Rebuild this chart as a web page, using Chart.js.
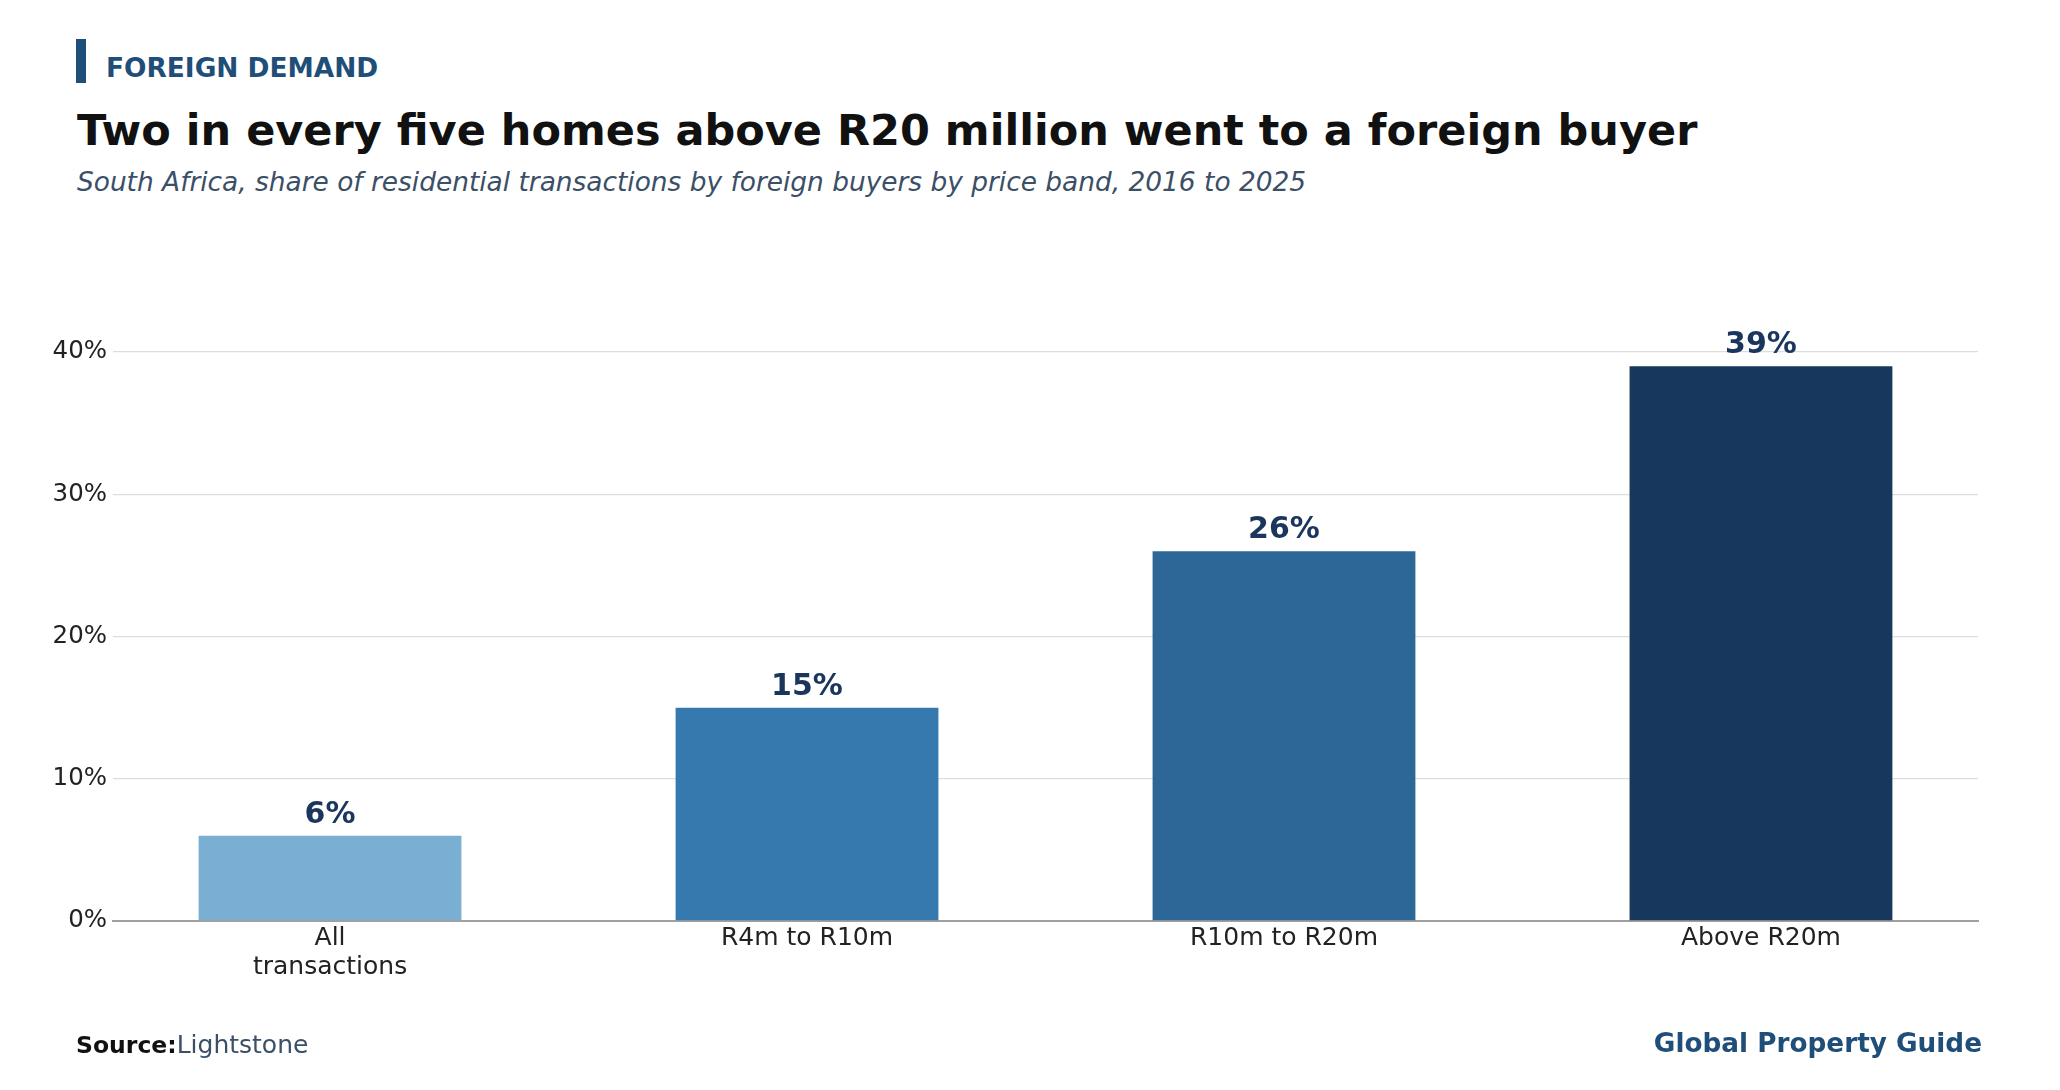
<!DOCTYPE html>
<html>
<head>
<meta charset="utf-8">
<title>Foreign demand</title>
<script src="https://cdn.jsdelivr.net/npm/chart.js@4.4.1/dist/chart.umd.min.js"></script>
<style>
  html, body { margin: 0; padding: 0; background: #fff; }
  body { width: 2060px; height: 1090px; position: relative; overflow: hidden; font-family: 'DejaVu Sans', sans-serif; }
  #chart { position: absolute; left: 0; top: 0; }
  .txt { position: absolute; white-space: nowrap; line-height: 1; }
  .accent { position: absolute; left: 76px; top: 39px; width: 10px; height: 44px; background: #1f4e79; }
  .kicker { left: 106px; top: 55px; font-size: 26.4px; font-weight: bold; color: #1f4e79; }
  .title { left: 77px; top: 109px; font-size: 43px; font-weight: bold; color: #111; }
  .subtitle { left: 77px; top: 169px; font-size: 26.4px; font-style: italic; color: #3b4f66; }
  .source { left: 76px; top: 1032px; font-size: 25px; color: #3b4f66; }
  .source b { color: #111; font-size: 23.5px; }
  .brand { right: 78px; top: 1030px; font-size: 26.3px; font-weight: bold; color: #1f4e79; }
</style>
</head>
<body>
<div class="accent"></div>
<div class="txt kicker">FOREIGN DEMAND</div>
<div class="txt title">Two in every five homes above R20 million went to a foreign buyer</div>
<div class="txt subtitle">South Africa, share of residential transactions by foreign buyers by price band, 2016 to 2025</div>
<canvas id="chart" width="2060" height="1090"></canvas>
<div class="txt source"><b>Source:</b>Lightstone</div>
<div class="txt brand">Global Property Guide</div>

<script>
// price bands and share of transactions going to foreign buyers (%)
const categories = [['All', 'transactions'], 'R4m to R10m', 'R10m to R20m', 'Above R20m'];
const foreignShare = [6, 15, 26, 39];
const barColors = ['#7aaed3', '#3679ae', '#2c6798', '#18375c'];
const yTicks = [0, 10, 20, 30, 40];

Chart.defaults.font.family = "'DejaVu Sans', sans-serif";
Chart.defaults.color = '#222';

// value labels above each bar
const barLabels = {
  id: 'barLabels',
  afterDatasetsDraw(chart) {
    const ctx = chart.ctx;
    const meta = chart.getDatasetMeta(0);
    ctx.save();
    ctx.font = "bold 30px 'DejaVu Sans', sans-serif";
    ctx.fillStyle = '#1b365d';
    ctx.textAlign = 'center';
    ctx.textBaseline = 'alphabetic';
    meta.data.forEach((bar, i) => {
      ctx.fillText(foreignShare[i] + '%', bar.x, bar.y - 13);
    });
    ctx.restore();
  }
};

new Chart(document.getElementById('chart'), {
  type: 'bar',
  data: {
    datasets: [{
      data: foreignShare.map((v, i) => ({ x: i, y: v })),
      backgroundColor: barColors,
      borderWidth: 0,
      barPercentage: 0.551,
      categoryPercentage: 1
    }]
  },
  options: {
    responsive: false,
    animation: false,
    layout: { padding: { top: 281, right: 82, bottom: 89, left: 0 } },
    plugins: {
      legend: { display: false },
      tooltip: { enabled: false }
    },
    scales: {
      x: {
        type: 'linear',
        offset: false,
        bounds: 'ticks',
        min: -0.455,
        max: 3.455,
        afterBuildTicks: (axis) => { axis.ticks = categories.map((c, i) => ({ value: i })); },
        afterFit: (axis) => { axis.height = 80; },
        grid: { display: false, drawTicks: false, offset: false },
        border: { display: true, color: '#a0a0a0', width: 2 },
        ticks: {
          callback: (value) => categories[value],
          font: { size: 25, lineHeight: 1.15 },
          color: '#222',
          padding: 3,
          maxRotation: 0,
          autoSkip: false
        }
      },
      y: {
        min: 0,
        max: 45,
        afterBuildTicks: (axis) => { axis.ticks = yTicks.map(v => ({ value: v })); },
        afterFit: (axis) => { axis.width = 113; },
        grid: { color: '#dddddd', lineWidth: 1.3, drawTicks: false },
        border: { display: false },
        ticks: {
          callback: (value) => value + '%',
          font: { size: 24.5 },
          color: '#222',
          padding: 6
        }
      }
    }
  },
  plugins: [barLabels]
});
</script>
</body>
</html>
